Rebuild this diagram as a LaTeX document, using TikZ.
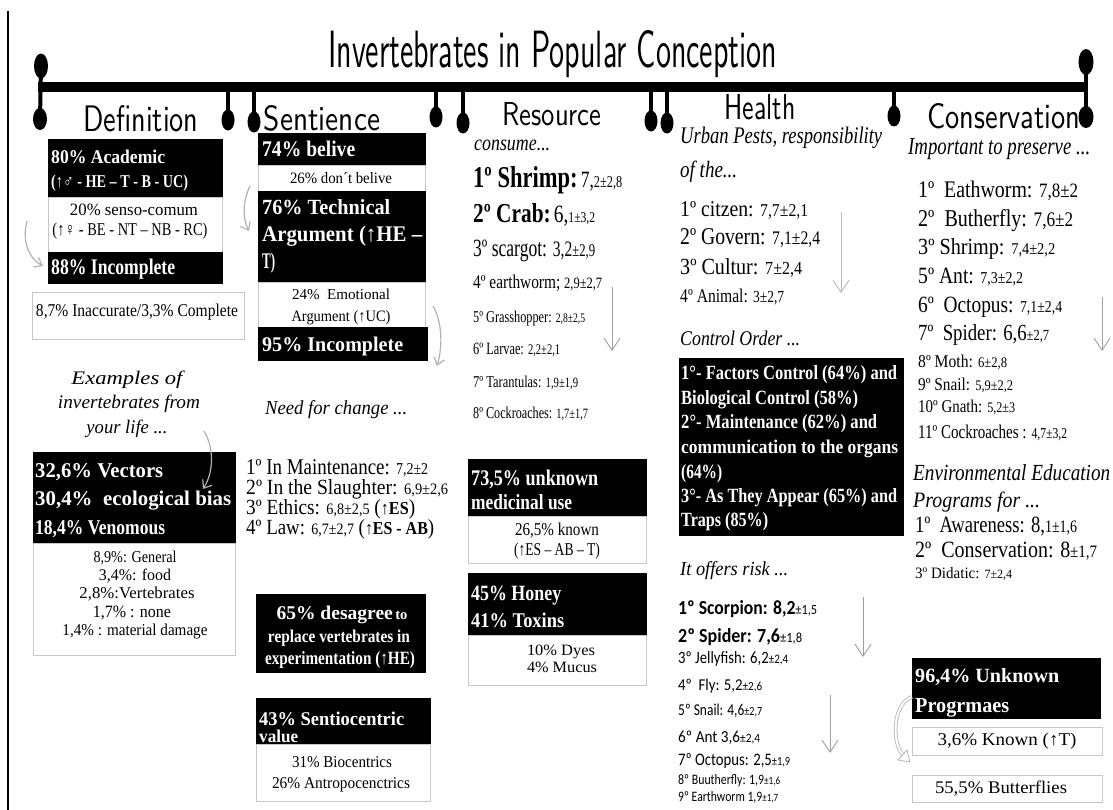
\documentclass[tikz,border=0pt]{standalone}
\usepackage{fontspec}
\usepackage{graphicx}
\usetikzlibrary{arrows.meta,shapes.geometric}
\newfontfamily\lib{Liberation Serif}
\newfontfamily\carl{Carlito}
\newcommand{\fsz}[2]{\fontsize{#1}{#2}\selectfont}
\newcommand{\fwh}[3]{\resizebox{#1pt}{#2pt}{#3}}
\newcommand{\tline}[7]{\node[#2] (#1) at (#3,#4) {\resizebox{#5pt}{#6pt}{#7}};}
\tikzset{
  blk/.style={fill=black, draw=black, anchor=north west, inner sep=0pt},
  wbx/.style={fill=white, draw=gray!45, line width=0.8pt, anchor=north west, inner sep=0pt},
  bl/.style={anchor=base west, inner sep=0pt, text=white, font=\lib\bfseries},
  bc/.style={anchor=base, inner sep=0pt, text=white, font=\lib\bfseries},
  wl/.style={anchor=base, inner sep=0pt, font=\lib},
  ll/.style={anchor=base west, inner sep=0pt, font=\lib},
  cl/.style={anchor=base west, inner sep=0pt, font=\carl},
  il/.style={anchor=base west, inner sep=0pt, font=\lib\itshape},
  ilc/.style={anchor=base, inner sep=0pt, font=\lib\itshape},
  hdr/.style={anchor=base, inner sep=0pt, font=\sffamily},
  dotn/.style={ellipse, fill=black, inner sep=0pt, minimum width=13pt, minimum height=21pt},
  stem/.style={line width=4pt},
  garr/.style={draw=gray!60, line width=1.2pt, -{Straight Barb[length=7pt,width=11pt]}},
  varr/.style={draw=gray!75, line width=0.9pt, -{Straight Barb[length=12pt,width=16pt]}},
  hollow/.style={draw=gray!60, double=white, double distance=2pt, line width=0.8pt},
}
\begin{document}
\begin{tikzpicture}[x=1pt,y=-1pt]
\useasboundingbox (0,0) rectangle (1113,810);
\fill[white] (0,0) rectangle (1113,810);
% border
\coordinate (bdT) at (8,11); \coordinate (bdB) at (8,810);
\draw[line width=1.2pt] (bdT) -- (bdB);
% timeline
\coordinate (barL) at (38,87); \coordinate (barR) at (1088,87);
\draw[line width=10pt] (barL) -- (barR);
\node[dotn, minimum width=14pt, minimum height=25pt] (dTL) at (41,66) {};
\node[dotn, minimum width=14pt, minimum height=22pt] (dBL) at (40,119) {};
\draw[stem] (dTL.center) -- (dBL.center);
\node[dotn, minimum width=15pt, minimum height=26pt] (dTR) at (1086,62) {};
\node[dotn, minimum width=15pt, minimum height=22pt] (dBR) at (1086,117) {};
\draw[stem] (dTR.center) -- (dBR.center);
\node[dotn] (p1) at (228,120) {}; \draw[stem] (p1.center) -- (p1.center |- barL);
\node[dotn] (p2) at (254,122) {}; \draw[stem] (p2.center) -- (p2.center |- barL);
\node[dotn] (p3) at (436,117) {}; \draw[stem] (p3.center) -- (p3.center |- barL);
\node[dotn] (p4) at (463,123) {}; \draw[stem] (p4.center) -- (p4.center |- barL);
\node[dotn] (p5) at (651,121) {}; \draw[stem] (p5.center) -- (p5.center |- barL);
\node[dotn] (p6) at (667,123) {}; \draw[stem] (p6.center) -- (p6.center |- barL);
\node[dotn] (p7) at (894,116) {}; \draw[stem] (p7.center) -- (p7.center |- barL);
% title and headers
\node[hdr, anchor=base west] (title) at (328,68) {\fwh{449}{37}{Invertebrates in Popular Conception}};
\node[hdr] (hDef) at (141,132) {\fwh{115}{26}{Definition}};
\node[hdr] (hSen) at (322,131) {\fwh{116}{25}{Sentience}};
\node[hdr] (hRes) at (552,126) {\fwh{99}{23}{Resource}};
\node[hdr] (hHea) at (760,120) {\fwh{71}{25}{Health}};
\node[hdr] (hCon) at (1004,129) {\fwh{153}{25}{Conservation}};
% ---- Definition
\node[blk, minimum width=174pt, minimum height=58pt] (a1) at (48,139) {};
\node[wbx, minimum width=174pt, minimum height=55pt] (a2) at (48,197) {};
\node[blk, minimum width=174pt, minimum height=31pt] (a3) at (48,252) {};
\node[wbx, minimum width=212pt, minimum height=47pt] (a4) at (32,292) {};
\tline{a1t}{bl}{51}{163.5}{114}{13.5}{80\% Academic}
\tline{a1u}{bl}{51}{188}{137}{12.5}{(↑♂ - HE – T - B - UC)}
\tline{a2t}{wl}{134}{215.5}{128}{11.5}{20\% senso-comum}
\tline{a2u}{wl}{130}{235.5}{155}{12.5}{(↑♀ - BE - NT – NB - RC)}
\tline{a3t}{bl}{51}{275}{124}{15.5}{88\% Incomplete}
\tline{a4t}{wl}{137}{316}{202}{12.5}{8,7\% Inaccurate/3,3\% Complete}
\coordinate (la1) at (27,221); \coordinate (la2) at (43,266);
\draw[garr] (la1) .. controls (22,240) and (28,258) .. (la2);
\coordinate (ra1) at (250,186); \coordinate (ra2) at (249,231);
\draw[garr] (ra1) .. controls (243,200) and (242,218) .. (ra2);
% examples
\tline{ex1}{ilc}{127}{384}{111}{13.5}{Examples of}
\tline{ex2}{ilc}{129}{408}{142}{13.5}{invertebrates from}
\tline{ex3}{ilc}{127}{433}{81}{13.5}{your life ...}
\node[blk, minimum width=202pt, minimum height=91pt] (b1) at (33,452) {};
\node[wbx, minimum width=202pt, minimum height=112pt] (b2) at (33,543) {};
\tline{b1a}{bl}{35}{477}{128}{14}{32,6\% Vectors}
\tline{b1b}{bl}{35}{505}{196}{14.5}{30,4\%\ \ ecological bias}
\tline{b1c}{bl}{35}{534}{130}{14}{18,4\% Venomous}
\tline{b2a}{wl}{135}{562.5}{83}{11.5}{8,9\%: General}
\tline{b2b}{wl}{135}{580.5}{72}{11.5}{3,4\%: food}
\tline{b2c}{wl}{137}{598.5}{115}{11.5}{2,8\%:Vertebrates}
\tline{b2d}{wl}{132}{617.5}{78}{11.5}{1,7\% : none}
\tline{b2e}{wl}{135}{635.5}{145}{11.5}{1,4\% : material damage}
\coordinate (ea1) at (204,431); \coordinate (ea2) at (203,489);
\draw[garr] (ea1) .. controls (214,447) and (214,472) .. (ea2);
% ---- Sentience
\node[blk, minimum width=167pt, minimum height=32pt] (s1) at (258,133) {};
\node[wbx, minimum width=167pt, minimum height=26pt] (s2) at (258,165) {};
\node[blk, minimum width=167pt, minimum height=91pt] (s3) at (258,191) {};
\node[wbx, minimum width=167pt, minimum height=45pt] (s4) at (258,282) {};
\node[blk, minimum width=169pt, minimum height=33pt] (s5) at (258,327) {};
\tline{s1t}{bl}{262}{157}{93}{15.5}{74\% belive}
\tline{s2t}{wl}{341}{184}{102}{11}{26\% don´t belive}
\tline{s3a}{bl}{262}{215}{128}{15}{76\% Technical}
\tline{s3b}{bl}{262}{242}{160}{15.5}{Argument (↑HE –}
\tline{s3c}{bl}{262}{269}{13}{15.5}{T)}
\tline{s4a}{wl}{341}{299}{98}{10.5}{24\%\ \ Emotional}
\tline{s4b}{wl}{341}{321}{99}{11}{Argument (↑UC)}
\tline{s5t}{bl}{262}{351}{141}{14.5}{95\% Incomplete}
\coordinate (sa1) at (433,306); \coordinate (sa2) at (437,366);
\draw[garr] (sa1) .. controls (442,322) and (443,345) .. (sa2);
\tline{need}{il}{265}{414.5}{142}{14}{Need for change ...}
\tline{n1}{ll}{246}{474}{182}{15}{\fsz{19}{19}1º In Maintenance: {\fsz{14}{14}7,2±2}}
\tline{n2}{ll}{246}{494}{202}{15}{\fsz{19}{19}2º In the Slaughter: {\fsz{14}{14}6,9±2,6}}
\tline{n3}{ll}{246}{514}{169}{15}{\fsz{19}{19}3º Ethics: {\fsz{14}{14}6,8±2,5} ({\fsz{16}{16}↑\textbf{ES}})}
\tline{n4}{ll}{246}{534}{188}{15}{\fsz{19}{19}4º Law: {\fsz{14}{14}6,7±2,7} ({\fsz{16}{16}↑\textbf{ES - AB}})}
\node[blk, minimum width=169pt, minimum height=78pt] (s6) at (256,594) {};
\tline{s6a}{bc}{342}{619.5}{131}{13.5}{{\fsz{20}{20}65\% desagree} {\fsz{15}{15}to}}
\tline{s6b}{bc}{339}{642}{142}{12.5}{replace vertebrates in}
\tline{s6c}{bc}{340}{664}{150}{13}{experimentation (↑HE)}
\node[blk, minimum width=174pt, minimum height=46pt] (s7) at (256,698) {};
\node[wbx, minimum width=174pt, minimum height=57pt] (s8) at (256,744) {};
\tline{s7a}{bl}{259}{725}{145}{13.5}{43\% Sentiocentric}
\tline{s7b}{bl}{259}{742}{39}{12.5}{value}
\tline{s8a}{wl}{342}{767}{100}{11}{31\% Biocentrics}
\tline{s8b}{wl}{341}{788}{138}{11}{26\% Antropocenctrics}
% ---- Resource
\tline{cons}{il}{474}{151}{76}{10.5}{consume...}
\tline{r1}{ll}{473}{188}{149}{21}{{\bfseries\fsz{22}{22}1º Shrimp:} {\fsz{17}{17}7,}{\fsz{12}{12}2±2,8}}
\tline{r2}{ll}{473}{223}{122}{19}{{\bfseries\fsz{22}{22}2º Crab:} {\fsz{20}{20}6,}{\fsz{12}{12}1±3,2}}
\tline{r3}{ll}{473}{257}{122}{16.5}{\fsz{18}{18}3º scargot: {\fsz{16}{16}3,2}{\fsz{13}{13}±2,9}}
\tline{r4}{ll}{473}{288}{129}{13.5}{\fsz{16}{16}4º earthworm; {\fsz{13}{13}2,9±2,7}}
\tline{r5}{ll}{473}{322}{112}{11.5}{\fsz{14}{14}5º Grasshopper: {\fsz{11}{11}2,8±2,5}}
\tline{r6}{ll}{473}{354}{87}{11.5}{\fsz{14}{14}6º Larvae: {\fsz{12}{12}2,2±2,1}}
\tline{r7}{ll}{473}{387}{105}{11.5}{\fsz{14}{14}7º Tarantulas: {\fsz{12}{12}1,9±1,9}}
\tline{r8}{ll}{473}{418}{115}{11.5}{\fsz{14}{14}8º Cockroaches: {\fsz{12}{12}1,7±1,7}}
\coordinate (rv1) at (612,287); \coordinate (rv2) at (612,351);
\draw[varr] (rv1) -- (rv2);
\node[blk, minimum width=178pt, minimum height=57pt] (rb1) at (468,459) {};
\node[wbx, minimum width=178pt, minimum height=47pt] (rb2) at (468,516) {};
\node[blk, minimum width=178pt, minimum height=62pt] (rb3) at (468,573) {};
\node[wbx, minimum width=178pt, minimum height=50pt] (rb4) at (468,635) {};
\tline{rb1a}{bl}{471}{485}{127}{15.5}{73,5\% unknown}
\tline{rb1b}{bl}{471}{509}{101}{15}{medicinal use}
\tline{rb2a}{wl}{557}{535}{84}{12.5}{26,5\% known}
\tline{rb2b}{wl}{557}{555}{86}{12.5}{(↑ES – AB – T)}
\tline{rb3a}{bl}{471}{600}{90}{14.5}{45\% Honey}
\tline{rb3b}{bl}{471}{627}{93}{14.5}{41\% Toxins}
\tline{rb4a}{wl}{561}{655}{68}{10.5}{10\% Dyes}
\tline{rb4b}{wl}{562}{672}{70}{10.5}{4\% Mucus}
% ---- Health
\tline{urb}{il}{680}{144}{202}{16.5}{Urban Pests, responsibility}
\tline{oft}{il}{680}{178}{57}{16.5}{of the...}
\tline{h1}{ll}{680}{217}{128}{15}{\fsz{20}{20}1º\ citzen: {\fsz{16}{16}7,7±2,1}}
\tline{h2}{ll}{680}{245}{140}{16}{\fsz{20}{20}2º\ Govern: {\fsz{16}{16}7,1±2,4}}
\tline{h3}{ll}{680}{274}{122}{16}{\fsz{20}{20}3º\ Cultur: {\fsz{16}{16}7±2,4}}
\tline{h4}{ll}{680}{302}{104}{13.5}{\fsz{15}{15}4º Animal: {\fsz{13}{13}3±2,7}}
\coordinate (hv1) at (841,212); \coordinate (hv2) at (841,293);
\draw[varr, draw=gray!55] (hv1) -- (hv2);
\tline{ctl}{il}{680}{345}{120}{14.5}{Control Order ...}
\node[blk, minimum width=224pt, minimum height=177pt] (hb) at (679,358) {};
\tline{hb1}{bl}{681}{379.5}{216}{14}{1°- Factors Control (64\%) and}
\tline{hb2}{bl}{681}{404.5}{177}{14}{Biological Control (58\%)}
\tline{hb3}{bl}{681}{428.5}{196}{14}{2°- Maintenance (62\%) and}
\tline{hb4}{bl}{681}{453.5}{217}{13.5}{communication to the organs}
\tline{hb5}{bl}{681}{478.5}{41}{14}{(64\%)}
\tline{hb6}{bl}{681}{502.5}{216}{14}{3°- As They Appear (65\%) and}
\tline{hb7}{bl}{681}{526.5}{87}{14}{Traps (85\%)}
\tline{risk}{il}{680}{575}{108}{14}{It offers risk ...}
\tline{k1}{cl}{678}{614}{139}{14}{{\bfseries\fsz{20}{20}1º\ Scorpion: 8,2}{\fsz{14}{14}±1,5}}
\tline{k2}{cl}{678}{642}{124}{14}{{\bfseries\fsz{20}{20}2º\ Spider: 7,6}{\fsz{14}{14}±1,8}}
\tline{k3}{cl}{678}{663.5}{110}{12}{\fsz{16}{16}3º\ Jellyfish: 6,2{\fsz{12}{12}±2,4}}
\tline{k4}{cl}{678}{690.5}{84}{11.5}{\fsz{16}{16}4º\ \ Fly: 5,2{\fsz{12}{12}±2,6}}
\tline{k5}{cl}{678}{715.5}{84}{11.5}{\fsz{16}{16}5º Snail: 4,6{\fsz{12}{12}±2,7}}
\tline{k6}{cl}{678}{742.5}{82}{11.5}{\fsz{16}{16}6º Ant 3,6{\fsz{12}{12}±2,4}}
\tline{k7}{cl}{678}{765.5}{112}{12}{\fsz{17}{17}7º\ Octopus: 2,5{\fsz{12}{12}±1,9}}
\tline{k8}{cl}{678}{784.5}{102}{10}{\fsz{13}{13}8º\ Buutherfly: 1,9{\fsz{10}{10}±1,6}}
\tline{k9}{cl}{678}{801.5}{100}{10}{\fsz{13}{13}9º\ Earthworm 1,9{\fsz{10}{10}±1,7}}
\coordinate (kv1) at (863,597); \coordinate (kv2) at (863,657);
\draw[varr] (kv1) -- (kv2);
\coordinate (kw1) at (830,695); \coordinate (kw2) at (830,753);
\draw[varr] (kw1) -- (kw2);
% ---- Conservation
\tline{imp}{il}{908}{154.5}{182}{16}{Important to preserve ...}
\tline{c1}{ll}{918}{198}{160}{16.5}{\fsz{21}{21}1º\ \ Eathworm: {\fsz{18}{18}7,8±2}}
\tline{c2}{ll}{918}{226}{155}{17}{\fsz{21}{21}2º\ \ Butherfly: {\fsz{18}{18}7,6±2}}
\tline{c3}{ll}{918}{254.5}{137}{16}{\fsz{21}{21}3º\ Shrimp: {\fsz{15}{15}7,4±2,2}}
\tline{c5}{ll}{918}{283.5}{105}{15.5}{\fsz{21}{21}5º\ Ant: {\fsz{15}{15}7,3±2,2}}
\tline{c6}{ll}{918}{312.5}{144}{15.5}{\fsz{21}{21}6º\ \ Octopus: {\fsz{15}{15}7,1±2,4}}
\tline{c7}{ll}{918}{340.5}{131}{16}{\fsz{21}{21}7º\ \ Spider: 6,6{\fsz{14}{14}±2,7}}
\tline{c8}{ll}{918}{367}{89}{12.5}{\fsz{16}{16}8º Moth: {\fsz{13}{13}6±2,8}}
\tline{c9}{ll}{918}{390}{95}{12.5}{\fsz{16}{16}9º Snail: {\fsz{13}{13}5,9±2,2}}
\tline{c10}{ll}{918}{412}{97}{12.5}{\fsz{16}{16}10º\ Gnath: {\fsz{13}{13}5,2±3}}
\tline{c11}{ll}{918}{438.5}{149}{13.5}{\fsz{18}{18}11º Cockroaches : {\fsz{14}{14}4,7±3,2}}
\coordinate (cv1) at (1102,297); \coordinate (cv2) at (1102,351);
\draw[varr] (cv1) -- (cv2);
\tline{env}{il}{913}{480.5}{197}{16}{Environmental Education}
\tline{prg}{il}{913}{507.5}{127}{15.5}{Programs for ...}
\tline{e1}{ll}{915}{532.5}{162}{15.5}{\fsz{20}{20}1º\ \ Awareness: 8,{\fsz{15}{15}1±1,6}}
\tline{e2}{ll}{915}{557.5}{182}{15.5}{\fsz{20}{20}2º\ \ Conservation: 8{\fsz{15}{15}±1,7}}
\tline{e3}{ll}{915}{578}{97}{11}{\fsz{15}{15}3º\ Didatic: {\fsz{12}{12}7±2,4}}
\node[blk, minimum width=188pt, minimum height=60pt] (cb1) at (912,658) {};
\node[wbx, minimum width=190pt, minimum height=28pt] (cb2) at (912,727) {};
\node[wbx, minimum width=190pt, minimum height=27pt] (cb3) at (912,775) {};
\tline{cb1a}{bl}{915}{682}{144}{14}{96,4\% Unknown}
\tline{cb1b}{bl}{915}{712}{94}{14}{Progrmaes}
\tline{cb2t}{wl}{1007}{745}{139}{12.5}{3,6\% Known (↑T)}
\tline{cb3t}{wl}{1001}{793}{132}{12.5}{55,5\% Butterflies}
% hollow curved arrow
\coordinate (ca1) at (912,697); \coordinate (ca3) at (903,755);
\coordinate (cah1) at (910,762); \coordinate (cah2) at (898,760); \coordinate (cah3) at (907,750);
\draw[hollow] (ca1) .. controls (893,703) and (891,742) .. (ca3);
\draw[draw=gray!60, line width=0.8pt, fill=white] (cah1) -- (cah2) -- (cah3) -- cycle;
\end{tikzpicture}
\end{document}
